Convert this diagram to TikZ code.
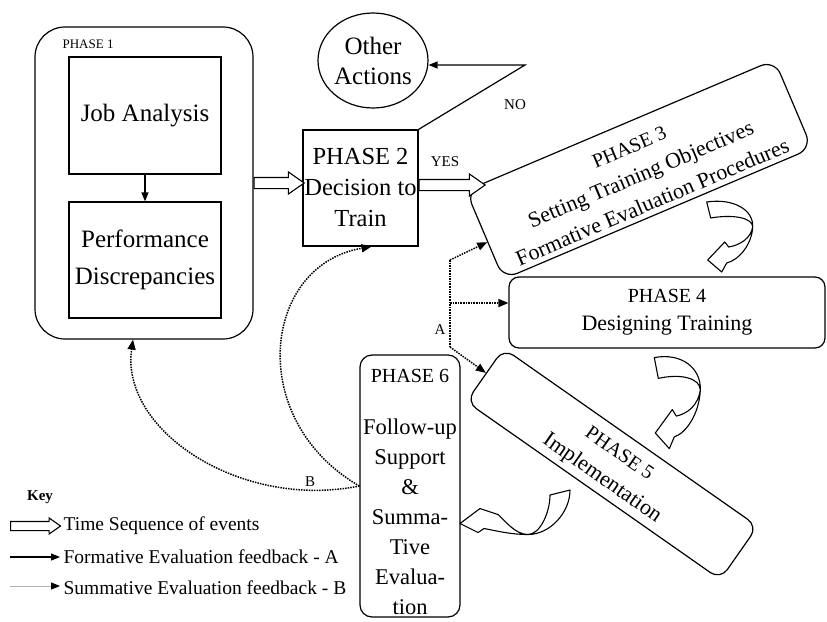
\documentclass[tikz,border=0pt]{standalone}
\usepackage{fontspec}
\setmainfont{Liberation Serif}
\usetikzlibrary{arrows.meta,shapes.geometric,shapes.arrows,calc}
\begin{document}
\begin{tikzpicture}[x=1pt,y=-1pt,
  line width=1.2pt,
  box/.style={draw, line width=1.2pt, inner sep=0pt, align=center},
  boxtext/.style={inner sep=0pt, align=center},
  fbline/.style={line width=1.5pt, dash pattern=on 1.5pt off 1.1pt},
  fb/.style={fbline, -{Triangle[length=10pt,width=8pt]}},
  solidtip/.style={-{Triangle[length=9pt,width=7pt]}},
  seqarrow/.style={single arrow, draw, line width=1.1pt, fill=white, inner xsep=0pt,
    inner ysep=5pt, single arrow head extend=5.5pt, single arrow tip angle=70, anchor=tail},
  smalllabel/.style={font=\fontsize{15}{17}\selectfont, inner sep=0pt},
  keytext/.style={font=\fontsize{19.5}{22}\selectfont, inner sep=0pt, anchor=west},
  pics/turnarrow/.style={code={
    \draw[fill=white, line width=1.1pt, line join=round]
      (-2,-8) .. controls (25,-12) and (45,0) .. (44,17)
      .. controls (43,35) and (30,50) .. (18,53)
      -- (13,62) -- (-1,50) -- (16,32) -- (20,37)
      .. controls (32,35) and (42,28) .. (44,17)
      .. controls (44,8) and (25,4) .. (2,8) -- cycle;
  }},
  pics/sweeparrow/.style={code={
    \draw[fill=white, line width=1.1pt, line join=round]
      (10,-2.5) .. controls (10,20) and (-10,42) .. (-32,42)
      .. controls (-50,42) and (-65,38) .. (-76,36)
      -- (-82,40) -- (-100,31) -- (-80,16) -- (-62,22)
      .. controls (-55,28) and (-45,42) .. (-32,42)
      .. controls (-20,42) and (-10,20) .. (-10,2.5) -- cycle;
  }},
]
\useasboundingbox[fill=white] (0,0) rectangle (827,621);

% Phase 1
\node[box, rounded corners=30pt, minimum width=218pt, minimum height=312pt] (p1) at (144,183) {};
\node[font=\fontsize{13}{15}\selectfont, inner sep=0pt, anchor=west] (p1lab) at (62,44) {PHASE 1};
\node[box, minimum width=152pt, minimum height=117pt, font=\fontsize{25}{30}\selectfont] (ja) at (145,115.5) {Job Analysis};
\node[box, minimum width=152pt, minimum height=116pt, font=\fontsize{25}{36.7}\selectfont] (pd) at (145,260) {Performance\\Discrepancies};
\draw[solidtip] (ja) -- (pd);

% Phase 2 and the NO branch
\node[box, minimum width=115pt, minimum height=116pt, font=\fontsize{24.5}{31}\selectfont] (p2) at (360.5,188) {PHASE 2\\Decision to\\Train};
\node[draw, ellipse, line width=1.2pt, minimum width=108pt, minimum height=95pt, inner sep=0pt, align=center, font=\fontsize{25}{30}\selectfont] (oa) at (373,60.5) {Other\\Actions};
\coordinate (nobend) at (525,65);
\draw[solidtip] (p2.north east) -- (nobend) -- (nobend -| oa.east);
\node[smalllabel] (nolab) at (515,105) {NO};

% Phase 3 to 6
\node[box, rotate=23, rounded corners=15pt, minimum width=335pt, minimum height=96pt] (p3) at (639,169.5) {};
\node[boxtext, rotate=23, font=\fontsize{22}{30}\selectfont] (p3text) at ($(p3.center)+(2,5.5)$)
  {{\fontsize{20}{30}\selectfont PHASE 3}\\Setting Training Objectives\\Formative Evaluation Procedures};
\node[box, rounded corners=10pt, minimum width=316pt, minimum height=71pt, font=\fontsize{22}{28}\selectfont] (p4) at (667,312.5)
  {{\fontsize{20}{28}\selectfont PHASE 4}\\Designing Training};
\node[box, rotate=-35, rounded corners=12pt, minimum width=310pt, minimum height=65pt] (p5) at (612,464) {};
\node[boxtext, rotate=-35, font=\fontsize{22}{30}\selectfont] (p5text) at ($(p5.center)+(-2,3)$)
  {{\fontsize{20}{30}\selectfont PHASE 5}\\Implementation};
\node[box, rounded corners=12pt, minimum width=100pt, minimum height=262pt] (p6) at (410,486) {};
\node[boxtext, font=\fontsize{22.5}{30}\selectfont] (p6text) at ([yshift=-6pt]p6.center)
  {{\fontsize{20}{30}\selectfont PHASE 6}\\[22pt]Follow-up\\Support\\\&\\Summa-\\Tive\\Evalua-\\tion};

% time sequence arrows
\node[seqarrow, minimum height=50pt] (s12) at (p1.east) {};
\node[seqarrow, minimum height=66pt] (s23) at ([yshift=3pt]p2.east) {};
\node[smalllabel] (yeslab) at (445,162) {YES};
\pic at (708.7,210) {turnarrow};
\pic[yscale=1.3] at (656.3,368) {turnarrow};
\pic at (560,492.5) {sweeparrow};

% formative feedback A
\coordinate (aup) at (450,260);
\coordinate (amid) at (450,303);
\coordinate (alow) at (450,347);
\draw[fbline] (aup) -- (alow);
\draw[fb] (aup) -- (p3);
\draw[fb] (amid) -- (amid -| p4.west);
\draw[fb] (alow) -- (p5);
\node[smalllabel] (alab) at (440,330) {A};

% summative feedback B
\draw[fb] (p6.west) .. controls (240,510) and (120,430) .. ([xshift=-11pt]p1.south);
\draw[fb] (p6.west) .. controls (245,420) and (262,265) .. ([xshift=11pt]p2.south);
\node[smalllabel] (blab) at (310,482) {B};

% key
\node[font=\bfseries\fontsize{15}{17}\selectfont, inner sep=0pt] (key) at (40,497) {Key};
\node[seqarrow, inner ysep=4pt, single arrow head extend=3.5pt, minimum height=50pt] (k1) at (10,526) {};
\node[keytext] (k1t) at (63,526) {Time Sequence of events};
\coordinate (k2a) at (10,557);
\coordinate (k2b) at (60,557);
\draw[line width=1.3pt, solidtip] (k2a) -- (k2b);
\node[keytext] (k2t) at (63,557) {Formative Evaluation feedback - A};
\coordinate (k3a) at (10,586);
\coordinate (k3b) at (60,586);
\draw[gray!60, line width=0.8pt, -{Triangle[length=9pt,width=7pt,color=black]}] (k3a) -- (k3b);
\node[keytext] (k3t) at (63,588) {Summative Evaluation feedback - B};
\end{tikzpicture}
\end{document}
